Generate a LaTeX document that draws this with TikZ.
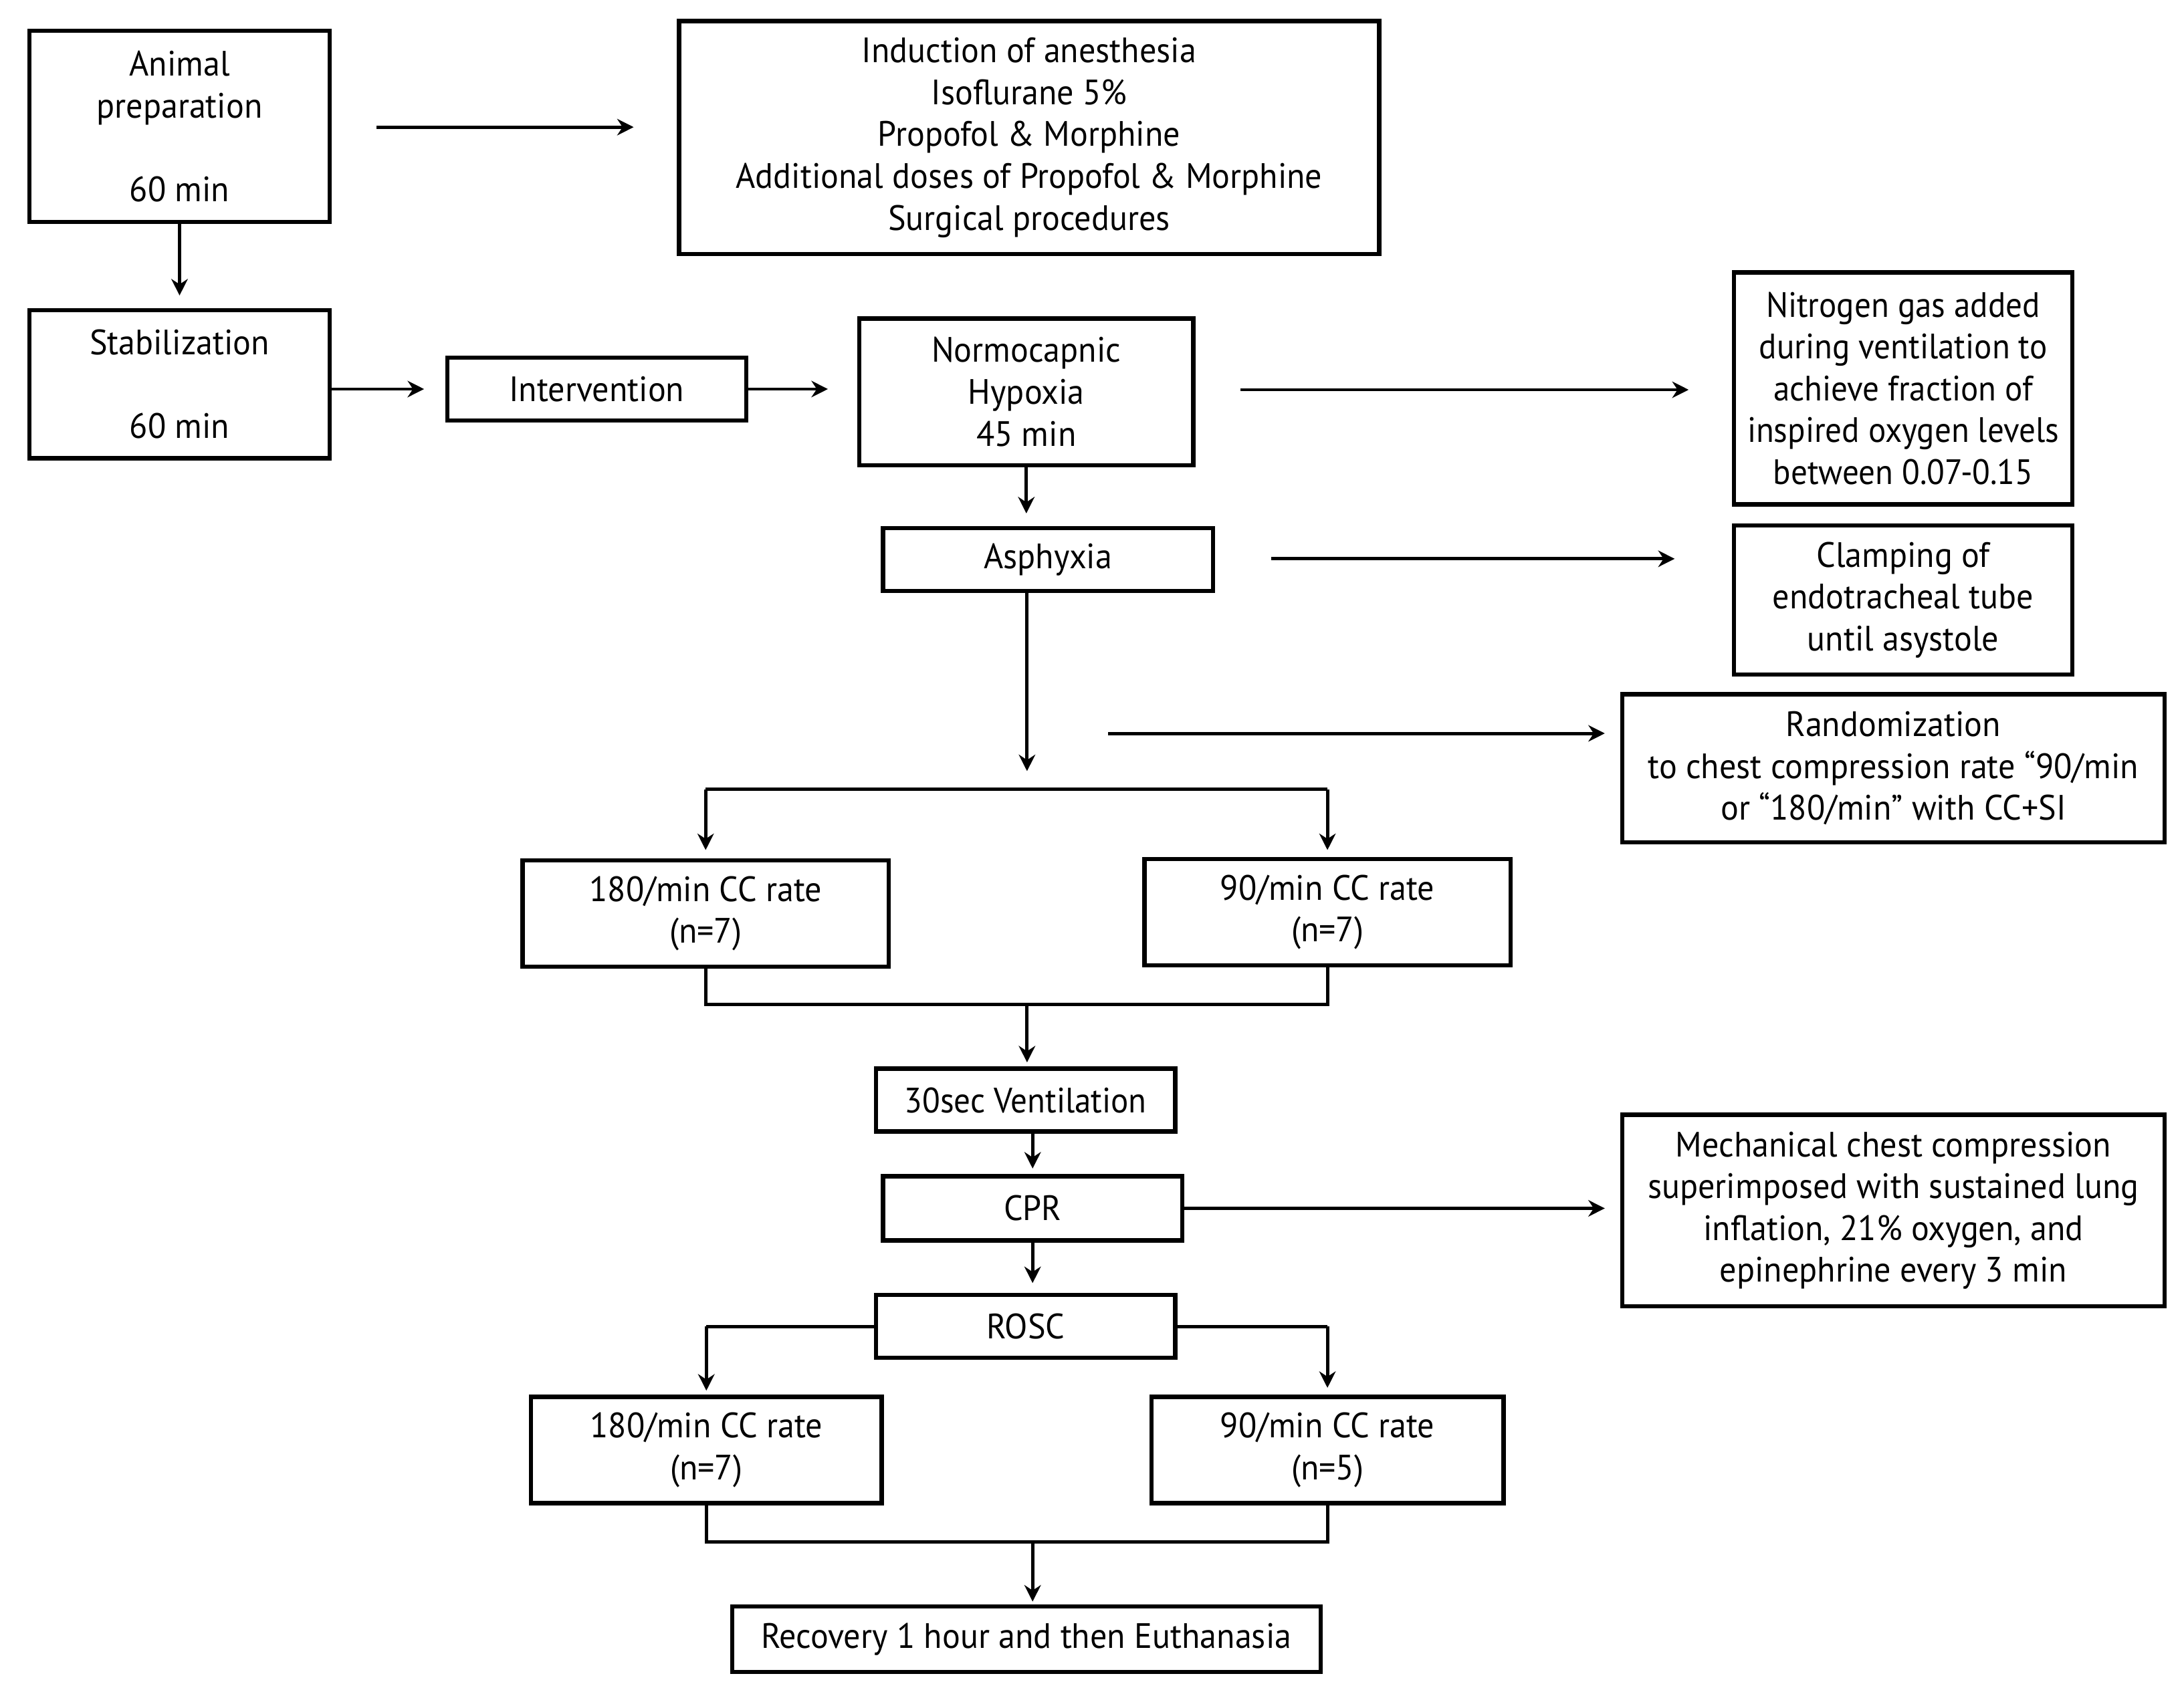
\documentclass[tikz,border=0pt]{standalone}
\usepackage{fontspec}
\setmainfont[FakeStretch=0.95]{PT Sans}
\newfontfamily\narrowfont[FakeStretch=0.93]{PT Sans}
\usetikzlibrary{arrows.meta}
\newcommand\U{0.020896cm}
\newcommand\mybox[6]{\node[box, minimum width={(#4-#2)*\U}, minimum height={(#5-#3)*\U}] (#1) at ({(#2+#4)/2},{(#3+#5)/2}) {#6};}
\begin{document}
\begin{tikzpicture}[x=0.020896cm,y=-0.020896cm,
  box/.style={draw, line width=1.8pt, inner sep=0pt, align=center, font=\fontsize{15}{17.8}\selectfont},
  arr/.style={line width=1.4pt, -{Stealth[length=7pt,width=7pt]}},
  ln/.style={line width=1.4pt}]
\useasboundingbox[fill=white] (0,0) rectangle (1563,1208);
\mybox{anim}{21}{22}{236}{159}{Animal\\preparation\\[17.8pt]60 min}
\mybox{induc}{486}{15}{987}{182}{Induction of anesthesia\\Isoflurane 5\%\\Propofol \& Morphine\\Additional doses of Propofol \& Morphine\\Surgical procedures}
\mybox{stab}{21}{222}{236}{328}{Stabilization\\[17.8pt]60 min}
\mybox{interv}{320}{256}{534}{301}{Intervention}
\mybox{normo}{615}{228}{854}{333}{Normocapnic\\Hypoxia\\45 min}
\mybox{nitro}{1241}{195}{1483}{361}{\narrowfont Nitrogen gas added\\\narrowfont during ventilation to\\\narrowfont achieve fraction of\\\narrowfont inspired oxygen levels\\\narrowfont between 0.07-0.15}
\mybox{asph}{632}{378}{868}{423}{Asphyxia}
\mybox{clamp}{1241}{376}{1483}{483}{Clamping of\\endotracheal tube\\until asystole}
\mybox{rand}{1161}{497}{1549}{603}{Randomization\\to chest compression rate “90/min\\or “180/min” with CC+SI}
\mybox{aa}{374}{616}{636}{692}{180/min CC rate\\(n=7)}
\mybox{ab}{819}{615}{1081}{691}{90/min CC rate\\(n=7)}
\mybox{vent}{627}{765}{841}{810}{\narrowfont 30sec Ventilation}
\mybox{cpr}{632}{842}{846}{888}{CPR}
\mybox{mech}{1161}{798}{1549}{935}{Mechanical chest compression\\superimposed with sustained lung\\inflation, 21\% oxygen, and\\epinephrine every 3 min}
\mybox{rosc}{627}{927}{841}{972}{ROSC}
\mybox{ba}{380}{1000}{631}{1076}{180/min CC rate\\(n=7)}
\mybox{bb}{824}{1000}{1076}{1076}{90/min CC rate\\(n=5)}
\mybox{recov}{524}{1150}{945}{1197}{Recovery 1 hour and then Euthanasia}
\coordinate (rstart) at (793,525);
\coordinate (split) at (735,565);
\coordinate (asphdown) at (735,552);
\coordinate (merge) at (735,719);
\coordinate (merge2) at (739,1104);
% connectors
\draw[arr, shorten <=32*\U, shorten >=31*\U] (anim.east |- 0,91) -- (induc.west |- 0,91);
\draw[arr, shorten >=9*\U] (anim.south) -- (stab.north);
\draw[arr, shorten >=15*\U] (stab.east |- interv.west) -- (interv.west);
\draw[arr, shorten >=21*\U] (interv.east) -- (normo.west |- interv.east);
\draw[arr, shorten <=32*\U, shorten >=31*\U] (normo.east |- 0,279) -- (nitro.west |- 0,279);
\draw[arr, shorten >=9*\U] (normo.south) -- (asph.north -| normo.south);
\draw[arr, shorten <=40*\U, shorten >=41*\U] (asph.east |- 0,400) -- (clamp.west |- 0,400);
\draw[arr] (asph.south -| asphdown) -- (asphdown);
\draw[arr, shorten >=11*\U] (rstart) -- (rstart -| rand.west);
\draw[ln] (aa.north |- split) -- (ab.north |- split);
\draw[arr, shorten >=6*\U] (aa.north |- split) -- (aa.north);
\draw[arr, shorten >=5*\U] (ab.north |- split) -- (ab.north);
\draw[ln] (aa.south) -- (aa.south |- merge) -- (ab.south |- merge) -- (ab.south);
\draw[arr, shorten >=3*\U] (merge) -- (vent.north -| merge);
\draw[arr, shorten >=4*\U] (cpr.north |- vent.south) -- (cpr.north);
\draw[arr, shorten >=11*\U] (cpr.east) -- (mech.west |- cpr.east);
\draw[arr, shorten >=7*\U] (cpr.south) -- (rosc.north -| cpr.south);
\draw[ln] (rosc.west) -- (rosc.west -| ba.north);
\draw[arr, shorten >=3*\U] (rosc.west -| ba.north) -- (ba.north);
\draw[ln] (rosc.east) -- (rosc.east -| bb.north);
\draw[arr, shorten >=5*\U] (rosc.east -| bb.north) -- (bb.north);
\draw[ln] (ba.south) -- (ba.south |- merge2) -- (bb.south |- merge2) -- (bb.south);
\draw[arr, shorten >=2*\U] (merge2) -- (recov.north -| merge2);
\end{tikzpicture}
\end{document}
